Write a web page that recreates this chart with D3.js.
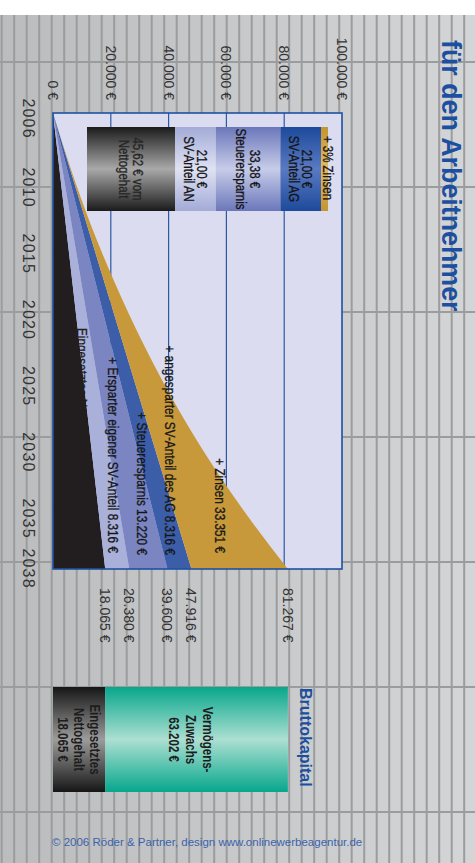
<!DOCTYPE html>
<html><head><meta charset="utf-8">
<script src="https://cdn.jsdelivr.net/npm/d3@7"></script>
<style>html,body{margin:0;padding:0;background:#fff;overflow:hidden}</style>
</head><body><svg id="c" width="475" height="863"></svg>
<script>
// ---------- data ----------
const years = [2006, 2010, 2014, 2018, 2022, 2026, 2030, 2034, 2038];
const nettogehalt     = [0, 2260, 4520, 6770, 9030, 11290, 13550, 15810, 18065];
const svAnteilAN      = [0, 1040, 2080, 3120, 4160, 5200, 6240, 7280, 8316];
const steuerersparnis = [0, 1650, 3300, 4960, 6610, 8260, 9910, 11570, 13220];
const svAnteilAG      = [0, 1040, 2080, 3120, 4160, 5200, 6240, 7280, 8316];
const zinsen          = [0, 300, 1400, 3600, 6800, 11200, 17000, 24400, 33351];

const seriesKeys = ["nettogehalt", "svAnteilAN", "steuerersparnis", "svAnteilAG", "zinsen"];
const seriesColors = ["#221e1f", "#a9b1da", "#7a85c2", "#3c5ea9", "#c8993b"];
const seriesLabels = ["Eingesetztes Nettogehalt 18.065 €", "+ Ersparter eigener SV-Anteil 8.316 €",
  "+ Steuerersparnis 13.220 €", "+ angesparter SV-Anteil des AG 8.316 €", "+ Zinsen 33.351 €"];
const endTotals = [18065, 26380, 39600, 47916, 81267];
const yTicks = [0, 20000, 40000, 60000, 80000, 100000];
const yearTicks = [2006, 2010, 2015, 2020, 2025, 2030, 2035, 2038];

const legendAmounts = [45.62, 21.00, 33.38, 21.00];
const legendLines = [["45,62 € vom", "Nettogehalt"], ["21,00 €", "SV-Anteil AN"], ["33,38 €", "Steuerersparnis"], ["21,00 €", "SV-Anteil AG"]];
const legendTopLabel = "+ 3% Zinsen";

const bruttoValues = [18065, 63202];
const bruttoLabels = [["Eingesetztes", "Nettogehalt", "18.065 €"], ["Vermögens-", "Zuwachs", "63.202 €"]];

const titleText = "für den Arbeitnehmer";
const bruttoTitle = "Bruttokapital";
const footerText = "© 2006 Röder & Partner, design www.onlinewerbeagentur.de";

// ---------- setup ----------
const W = 475, H = 863;
const SANS = "'Liberation Sans',Arial,sans-serif";
const NARROW_SX = 0.82;
const de = d3.formatLocale({decimal: ",", thousands: ".", grouping: [3], currency: ["", " €"]});
const fmt = v => de.format(",")(v) + " €";

const svg = d3.select("#c");
const defs = svg.append("defs");
function grad(id, edge, mid) {
  const gr = defs.append("linearGradient").attr("id", id).attr("x1", 0).attr("x2", 1).attr("y1", 0).attr("y2", 0);
  gr.append("stop").attr("offset", 0).attr("stop-color", edge);
  gr.append("stop").attr("offset", 0.5).attr("stop-color", mid);
  gr.append("stop").attr("offset", 1).attr("stop-color", edge);
}
grad("gBlack", "#1b1b1b", "#a9a9a9");
grad("gLight", "#a3abd7", "#dfe2f3");
grad("gMed", "#6b77ba", "#c7cce9");
grad("gBlue", "#1d4a9b", "#5a7ac2");
grad("gGold", "#c4952f", "#e2bb62");
grad("gTeal", "#07a78c", "#acdfd2");
grad("gBlack2", "#161616", "#9c9c9c");
const bg = defs.append("linearGradient").attr("id", "gBg").attr("x1", 0).attr("x2", 1);
bg.append("stop").attr("offset", 0).attr("stop-color", "#bbbcbe");
bg.append("stop").attr("offset", 1).attr("stop-color", "#d4d5d7");

// narrow text helper (Liberation Sans squeezed horizontally, like a condensed face)
function ntext(parent, lines, x, y, o) {
  const fill = o.fill || "#161616";
  const t = parent.append("text")
    .attr("transform", `translate(${x},${y}) scale(${NARROW_SX},1)`)
    .attr("text-anchor", o.anchor || "middle")
    .attr("font-family", SANS).attr("font-size", o.size)
    .attr("font-weight", o.weight || "normal").attr("fill", fill)
    .attr("stroke", fill).attr("stroke-width", o.weight ? 0 : 0.3);
  (Array.isArray(lines) ? lines : [lines]).forEach((l, j) =>
    t.append("tspan").attr("x", 0).attr("y", j * (o.lh || 0)).text(l));
  return t;
}

// background (screen coordinates)
svg.append("rect").attr("width", W).attr("height", H).attr("fill", "#fff");
svg.append("rect").attr("x", 0).attr("y", 15).attr("width", W).attr("height", H - 15).attr("fill", "url(#gBg)");
svg.append("g").selectAll("line").data(d3.range(0, 38)).join("line")
  .attr("x1", k => 1.7 + 12.5 * k).attr("x2", k => 1.7 + 12.5 * k)
  .attr("y1", 15).attr("y2", H).attr("stroke", "#9b9c9e").attr("stroke-width", 2);
svg.append("g").selectAll("line").data(d3.range(0, 7)).join("line")
  .attr("y1", k => 62 + 125 * k).attr("y2", k => 62 + 125 * k)
  .attr("x1", 0).attr("x2", W).attr("stroke", "#9b9c9e").attr("stroke-width", 2);

// rotated chart group (original chart is 863 x 475, turned 90° clockwise)
const g = svg.append("g").attr("transform", "translate(475,0) rotate(90)");

const x = d3.scaleLinear().domain([2006, 2038]).range([113, 569]);
const y = d3.scaleLinear().domain([0, 100000]).range([422, 133]);
const yearPos = d3.scaleLinear().domain([2006, 2010, 2035, 2038]).range([118, 187, 518, 568]);

// title
g.append("text").attr("x", 40).attr("y", 33).text(titleText)
  .attr("font-family", SANS).attr("font-weight", "bold").attr("font-size", 26.8).attr("fill", "#1b4f9f");

// plot background
g.append("rect").attr("x", x(2006)).attr("y", y(100000)).attr("width", x(2038) - x(2006)).attr("height", y(0) - y(100000))
  .attr("fill", "#dbdcef");
// gridlines
g.append("g").selectAll("line").data(yTicks.slice(1, -1)).join("line")
  .attr("x1", x(2006)).attr("x2", x(2038)).attr("y1", d => y(d)).attr("y2", d => y(d))
  .attr("stroke", "#2a5aa6").attr("stroke-width", 1.2);

// stacked areas
const rows = years.map((yr, i) => ({year: yr, nettogehalt: nettogehalt[i], svAnteilAN: svAnteilAN[i],
  steuerersparnis: steuerersparnis[i], svAnteilAG: svAnteilAG[i], zinsen: zinsen[i]}));
const stacked = d3.stack().keys(seriesKeys)(rows);
const area = d3.area().x(d => x(d.data.year)).y0(d => y(d[0])).y1(d => y(d[1])).curve(d3.curveMonotoneX);
g.append("g").selectAll("path").data(stacked).join("path")
  .attr("d", area).attr("fill", (d, i) => seriesColors[i]);

// plot border
g.append("rect").attr("x", x(2006)).attr("y", y(100000)).attr("width", x(2038) - x(2006)).attr("height", y(0) - y(100000))
  .attr("fill", "none").attr("stroke", "#1f51a0").attr("stroke-width", 1.6);

// legend stacked bar (inside plot)
const legX0 = 127, legX1 = 211, legXc = (legX0 + legX1) / 2;
const legScale = d3.scaleLinear().domain([0, d3.sum(legendAmounts)]).range([388, 154]);
const legCum = d3.cumsum(legendAmounts);
const legFills = ["url(#gBlack)", "url(#gLight)", "url(#gMed)", "url(#gBlue)"];
const legG = g.append("g");
legG.append("rect").attr("x", legX0).attr("width", legX1 - legX0).attr("y", legScale(legCum[3]) - 7).attr("height", 7)
  .attr("fill", "url(#gGold)");
legG.selectAll("rect.seg").data(legendAmounts).join("rect").attr("class", "seg")
  .attr("x", legX0).attr("width", legX1 - legX0)
  .attr("y", (d, i) => legScale(legCum[i])).attr("height", (d, i) => legScale(legCum[i] - d) - legScale(legCum[i]))
  .attr("fill", (d, i) => legFills[i]);
legendLines.forEach((lines, i) => {
  const c = (legScale(legCum[i]) + legScale(legCum[i] - legendAmounts[i])) / 2;
  ntext(legG, lines, legXc, c - 1.5, {size: 14, lh: 13.5, fill: i === 0 ? "#262626" : "#141414"});
});
ntext(legG, legendTopLabel, legXc - 1, legScale(legCum[3]) - 2, {size: 14});

// inline area labels
const labelLayout = [{a: "start", x: 328, y: 398}, {a: "end", x: 553, y: 367}, {a: "end", x: 555, y: 338},
  {a: "end", x: 555, y: 310}, {a: "end", x: 553, y: 260}];
const labG = g.append("g");
seriesLabels.forEach((l, i) => ntext(labG, l, labelLayout[i].x, labelLayout[i].y,
  {anchor: labelLayout[i].a, size: 14.4, fill: i === 0 ? "#231f20" : "#161616"}));

// y axis labels
g.append("g").selectAll("text").data(yTicks).join("text")
  .attr("x", 100).attr("y", d => y(d)).attr("dy", "0.36em").attr("text-anchor", "end")
  .attr("font-family", SANS).attr("font-size", 14).attr("fill", "#333").text(d => fmt(d));

// year labels
g.append("g").selectAll("text").data(yearTicks).join("text")
  .attr("x", d => yearPos(d) + 0.6).attr("y", 452).attr("text-anchor", "middle")
  .attr("font-family", SANS).attr("font-size", 16).attr("letter-spacing", 1.2).attr("fill", "#333").text(d => d);

// end totals
g.append("g").selectAll("text").data(endTotals).join("text")
  .attr("x", 588).attr("y", d => y(d)).attr("dy", "0.36em")
  .attr("font-family", SANS).attr("font-size", 14).attr("fill", "#333").text(d => fmt(d));

// Bruttokapital bar
const bX0 = 687, bX1 = 792, bXc = (bX0 + bX1) / 2;
const bCum = d3.cumsum(bruttoValues);
const bFills = ["url(#gBlack2)", "url(#gTeal)"];
g.append("g").selectAll("rect").data(bruttoValues).join("rect")
  .attr("x", bX0).attr("width", bX1 - bX0)
  .attr("y", (d, i) => y(bCum[i])).attr("height", (d, i) => y(bCum[i] - d) - y(bCum[i]))
  .attr("fill", (d, i) => bFills[i]);
bruttoLabels.forEach((lines, i) => {
  const c = (y(bCum[i]) + y(bCum[i] - bruttoValues[i])) / 2;
  ntext(g, lines, bXc, c + (i === 0 ? -11 : -6), {size: 14, weight: "bold", lh: i === 0 ? 16 : 17, fill: "#1d1d1d"});
});
g.append("text").attr("x", 688).attr("y", 175).text(bruttoTitle)
  .attr("font-family", SANS).attr("font-weight", "bold").attr("font-size", 16).attr("fill", "#1b4f9f");

// footer (not rotated)
svg.append("text").attr("x", 52).attr("y", 846).text(footerText)
  .attr("font-family", SANS).attr("font-size", 11.5).attr("fill", "#3a64ab");
</script></body></html>
